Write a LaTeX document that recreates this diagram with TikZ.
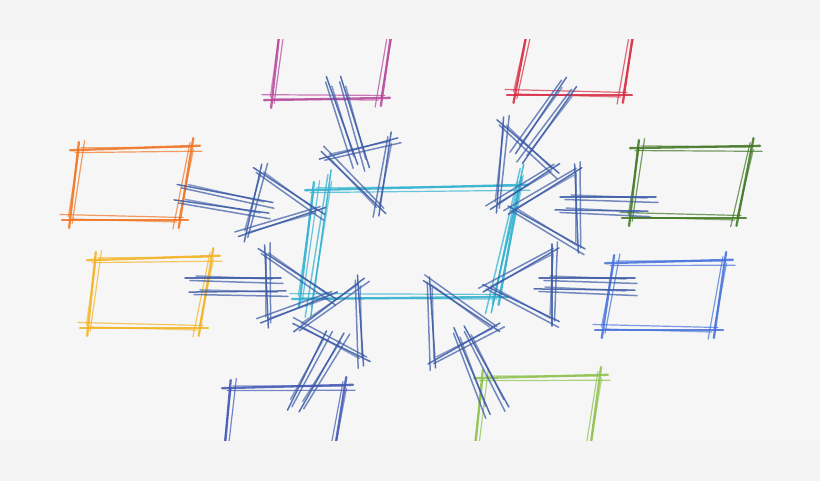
\documentclass[tikz,border=0pt]{standalone}
\usetikzlibrary{calc}
\definecolor{bgout}{HTML}{F4F4F4}
\definecolor{bgin}{HTML}{F6F6F6}
\definecolor{cOrange}{HTML}{F0721E}
\definecolor{cYellow}{HTML}{F3B21E}
\definecolor{cMagenta}{HTML}{B5459A}
\definecolor{cRed}{HTML}{D8283F}
\definecolor{cDGreen}{HTML}{3E7520}
\definecolor{cRBlue}{HTML}{4470DA}
\definecolor{cDBlue}{HTML}{3E56B2}
\definecolor{cLGreen}{HTML}{8DC04B}
\definecolor{cCyan}{HTML}{2DB0CF}
\definecolor{cArrow}{HTML}{3A5AA6}
\newcommand\skseg[6][]{%
  \pgfmathsetmacro\skDx{#5-(#3)}%
  \pgfmathsetmacro\skDy{#6-(#4)}%
  \pgfmathsetmacro\skL{veclen(\skDx,\skDy)}%
  \pgfmathsetmacro\skUx{\skDx/\skL}%
  \pgfmathsetmacro\skUy{\skDy/\skL}%
  \draw[#2, line width=2.3pt, opacity=.85, line cap=round, #1]
    ({#3-8*\skUx}, {#4-8*\skUy}) -- ({#5+8*\skUx}, {#6+8*\skUy});
  \draw[#2, line width=1.2pt, opacity=.7, line cap=round, #1]
    ({#3-3*\skUx-2.5*\skUy}, {#4-3*\skUy+2.5*\skUx}) -- ({#5+10*\skUx-5.5*\skUy}, {#6+10*\skUy+5.5*\skUx});
  \draw[#2, line width=1.3pt, opacity=.6, line cap=round, #1]
    ({#3+3*\skUx+2*\skUy}, {#4+3*\skUy-2*\skUx}) -- ({#5-1*\skUx-1*\skUy}, {#6-1*\skUy+1*\skUx});
}
\newcommand\skbox[9]{%
  \skseg{#1}{#2}{#3}{#4}{#5}%
  \skseg{#1}{#4}{#5}{#6}{#7}%
  \skseg{#1}{#6}{#7}{#8}{#9}%
  \skseg{#1}{#8}{#9}{#2}{#3}%
}
\newcommand\sktri[7]{%
  \skseg[thin stroke]{#1}{#2}{#3}{#4}{#5}%
  \skseg[thin stroke]{#1}{#4}{#5}{#6}{#7}%
  \skseg[thin stroke]{#1}{#6}{#7}{#2}{#3}%
}
\tikzset{thin stroke/.style={line width=1.5pt}}
\begin{document}
\begin{tikzpicture}[x=1pt,y=-1pt]
\useasboundingbox (0,0) rectangle (820,481);
\fill[bgout] (0,0) rectangle (820,481);
\fill[bgin] (0,40) rectangle (820,440);
\begin{scope}
\clip (0,40) rectangle (820,440);
% outer boxes
\skbox{cOrange}{78}{150}{192}{146}{180}{220}{70}{220}
\skbox{cYellow}{95}{260}{212}{256}{200}{328}{88}{328}
\skbox{cMagenta}{283}{0}{396}{0}{382}{98}{272}{100}
\skbox{cRed}{533}{0}{638}{0}{624}{95}{515}{95}
\skbox{cDGreen}{638}{148}{752}{146}{738}{218}{630}{218}
\skbox{cRBlue}{613}{263}{725}{260}{715}{330}{603}{330}
\skbox{cDBlue}{230}{388}{345}{385}{330}{480}{222}{480}
\skbox{cLGreen}{482}{378}{600}{375}{586}{480}{472}{480}
% central box
\skbox{cCyan}{313}{190}{520}{185}{500}{297}{300}{299}
\skseg[thin stroke]{cCyan}{330}{178}{312}{308}
\skseg[thin stroke]{cCyan}{522}{172}{493}{305}
% arrows: shafts
\skseg[thin stroke]{cArrow}{185}{186}{265}{201}
\skseg[thin stroke]{cArrow}{182}{201}{261}{212}
\skseg[thin stroke]{cArrow}{193}{278}{273}{278}
\skseg[thin stroke]{cArrow}{197}{292}{278}{291}
\skseg[thin stroke]{cArrow}{329}{84}{355}{157}
\skseg[thin stroke]{cArrow}{343}{84}{367}{160}
\skseg[thin stroke]{cArrow}{562}{84}{520}{147}
\skseg[thin stroke]{cArrow}{572}{93}{527}{157}
\skseg[thin stroke]{cArrow}{568}{197}{648}{197}
\skseg[thin stroke]{cArrow}{563}{210}{640}{211}
\skseg[thin stroke]{cArrow}{547}{278}{627}{278}
\skseg[thin stroke]{cArrow}{542}{289}{627}{290}
\skseg[thin stroke]{cArrow}{291}{403}{323}{338}
\skseg[thin stroke]{cArrow}{303}{405}{340}{340}
\skseg[thin stroke]{cArrow}{457}{335}{487}{407}
\skseg[thin stroke]{cArrow}{468}{333}{505}{400}
% arrows: heads
\sktri{cArrow}{260}{172}{318}{210}{246}{234}
\sktri{cArrow}{265}{253}{330}{295}{268}{320}
\sktri{cArrow}{327}{157}{390}{140}{380}{208}
\sktri{cArrow}{503}{125}{553}{168}{497}{205}
\sktri{cArrow}{575}{172}{515}{210}{578}{245}
\sktri{cArrow}{552}{252}{490}{288}{552}{318}
\sktri{cArrow}{300}{327}{358}{283}{363}{358}
\sktri{cArrow}{493}{327}{430}{285}{435}{360}
\end{scope}
\end{tikzpicture}
\end{document}
